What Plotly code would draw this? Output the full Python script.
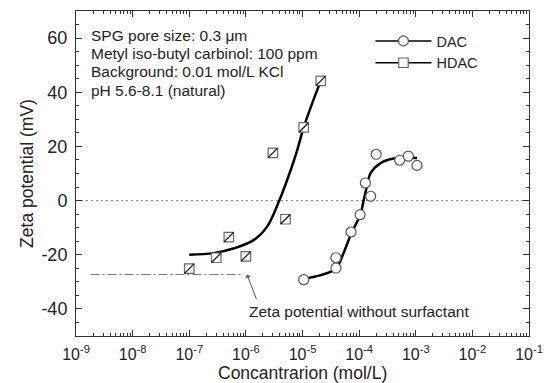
import plotly.graph_objects as go

# ---- data ----
hdac_x = [1e-7, 3e-7, 5e-7, 1e-6, 3e-6, 5e-6, 1.05e-5, 2.1e-5]
hdac_y = [-25.1, -21.1, -13.5, -20.6, 17.6, -6.9, 27.0, 44.2]

dac_x = [1.05e-5, 3.9e-5, 3.9e-5, 7.2e-5, 1.04e-4, 1.29e-4, 1.6e-4, 2.0e-4, 5.2e-4, 7.4e-4, 1.05e-3]
dac_y = [-29.2, -24.9, -21.1, -11.6, -5.2, 6.5, 1.6, 17.1, 14.9, 16.4, 13.0]

hdac_fit_x = [1e-7, 2.69e-7, 6.0e-7, 1.35e-6, 2.34e-6, 3.89e-6, 5.6e-6, 7.9e-6, 1.05e-5, 1.55e-5, 2.1e-5]
hdac_fit_y = [-20.0, -19.4, -17.7, -14.7, -9.8, 0.0, 8.7, 18.0, 27.0, 37.0, 44.1]

dac_fit_x = [1.05e-5, 2.04e-5, 3.89e-5, 5.25e-5, 7.24e-5, 1.05e-4, 1.2e-4, 1.41e-4, 1.58e-4, 2.34e-4, 4.07e-4, 1.05e-3]
dac_fit_y = [-28.8, -27.6, -25.1, -19.6, -12.2, -5.2, 0.0, 6.3, 10.0, 13.7, 15.5, 15.7]

baseline_x = [1.8e-9, 8e-7]
baseline_y = [-27.3, -27.3]

x_range_log = [-9, -1]
x_tickvals = [1e-9, 1e-8, 1e-7, 1e-6, 1e-5, 1e-4, 1e-3, 1e-2, 1e-1]
x_ticktext = ["10<sup>-9</sup>", "10<sup>-8</sup>", "10<sup>-7</sup>", "10<sup>-6</sup>",
              "10<sup>-5</sup>", "10<sup>-4</sup>", "10<sup>-3</sup>", "10<sup>-2</sup>",
              "10<sup>-1</sup>"]
y_range = [-50, 70]
y_tickvals = [-40, -20, 0, 20, 40, 60]
y_ticktext = ["-40", "-20", "0", "20", "40", "60"]

info_lines = ["SPG pore size: 0.3 μm", "Metyl iso-butyl carbinol: 100 ppm",
              "Background: 0.01 mol/L KCl", "pH 5.6-8.1 (natural)"]

FONT = "Arial, Liberation Sans, sans-serif"
TXT = "#222222"
AX = "#333333"

# the page body adds an 8px offset; the figure is sized so that the plot area
# lands at x 76..529, y 11..336 in the 551x383 window
W, H = 543, 375
ML, MR, MT, MB = 68, 22, 3, 47
PH = H - MT - MB

fig = go.Figure()

# zero reference line
fig.add_trace(go.Scatter(x=[10 ** x_range_log[0], 10 ** x_range_log[1]], y=[0, 0],
                         mode="lines", line=dict(color="#808080", width=1, dash="2px,3px"),
                         showlegend=False, hoverinfo="skip"))
# baseline without surfactant
fig.add_trace(go.Scatter(x=baseline_x, y=baseline_y, mode="lines",
                         line=dict(color="#777777", width=1, dash="9px,3px,2px,3px"),
                         showlegend=False, hoverinfo="skip"))

# fitted curves
fig.add_trace(go.Scatter(x=hdac_fit_x, y=hdac_fit_y, mode="lines", line_shape="spline",
                         line=dict(color="black", width=2.5), showlegend=False))
fig.add_trace(go.Scatter(x=dac_fit_x, y=dac_fit_y, mode="lines", line_shape="spline",
                         line=dict(color="black", width=2.5), showlegend=False))

# markers
fig.add_trace(go.Scatter(x=dac_x, y=dac_y, mode="markers",
                         marker=dict(symbol="circle", size=10, color="white",
                                     line=dict(color="#555555", width=1.2)),
                         showlegend=False))
fig.add_trace(go.Scatter(x=hdac_x, y=hdac_y, mode="markers",
                         marker=dict(symbol="square", size=9.5, color="white",
                                     line=dict(color="#666666", width=1.2)),
                         showlegend=False))
fig.add_trace(go.Scatter(x=hdac_x, y=hdac_y, mode="markers",
                         marker=dict(symbol="line-ne", size=9.5,
                                     line=dict(color="#111111", width=1.2)),
                         showlegend=False))

# legend entries
fig.add_trace(go.Scatter(x=[None], y=[None], mode="lines+markers", name="DAC",
                         line=dict(color="black", width=1.5),
                         marker=dict(symbol="circle", size=10, color="white",
                                     line=dict(color="#555555", width=1.2))))
fig.add_trace(go.Scatter(x=[None], y=[None], mode="lines+markers", name="HDAC",
                         line=dict(color="black", width=1.5),
                         marker=dict(symbol="square", size=9.5, color="white",
                                     line=dict(color="#666666", width=1.2))))

# info text block, one annotation per line (window pixel centres)
line_centers_px = [35, 53.3, 71.7, 90]
for txt, py in zip(info_lines, line_centers_px):
    fig.add_annotation(xref="paper", yref="paper", x=(89 - 76) / 453, y=1 - (py - 11) / PH,
                       xanchor="left", yanchor="middle", showarrow=False, text=txt,
                       font=dict(family=FONT, size=15.5, color=TXT))

fig.add_annotation(x=-5.98, y=-27.3, ax=10, ay=26, showarrow=True, arrowhead=1,
                   arrowsize=1, arrowwidth=1, arrowcolor="#555555", text="")
fig.add_annotation(x=-4.0, y=-40.9, showarrow=False, text="Zeta potential without surfactant",
                   font=dict(family=FONT, size=15.5, color=TXT))

# x-axis title
fig.add_annotation(xref="paper", yref="paper", x=0.5, y=-(373 - 336) / PH,
                   xanchor="center", yanchor="middle", showarrow=False,
                   text="Concantrarion (mol/L)", font=dict(family=FONT, size=17.5, color=TXT))

axis_common = dict(showline=True, linecolor=AX, linewidth=1, mirror="allticks",
                   ticks="inside", tickcolor=AX, showgrid=False, zeroline=False,
                   automargin=False)

fig.update_xaxes(type="log", range=x_range_log, tickvals=x_tickvals, ticktext=x_ticktext,
                 ticklen=6, tickwidth=1, tickfont=dict(family=FONT, size=16, color=TXT),
                 ticklabelstandoff=4,
                 minor=dict(ticks="inside", ticklen=3, tickcolor=AX, dtick="D1", showgrid=False),
                 **axis_common)
fig.update_yaxes(range=y_range, tickvals=y_tickvals, ticktext=y_ticktext, ticklen=6, tickwidth=1,
                 tickfont=dict(family=FONT, size=18, color=TXT),
                 minor=dict(ticks="inside", ticklen=3, tickcolor=AX, dtick=5, showgrid=False),
                 title=dict(text="Zeta potential (mV)", font=dict(family=FONT, size=17.5, color=TXT),
                            standoff=3),
                 ticklabelstandoff=4,
                 **axis_common)

fig.update_layout(width=W, height=H, margin=dict(l=ML, r=MR, t=MT, b=MB),
                  plot_bgcolor="white", paper_bgcolor="white",
                  font=dict(family=FONT, color=TXT),
                  legend=dict(x=0.65, y=0.957, xanchor="left", yanchor="top",
                              bgcolor="rgba(0,0,0,0)", itemwidth=56,
                              font=dict(family=FONT, size=14.5, color=TXT),
                              tracegroupgap=0, itemsizing="trace"))

fig.write_html("out.html")
